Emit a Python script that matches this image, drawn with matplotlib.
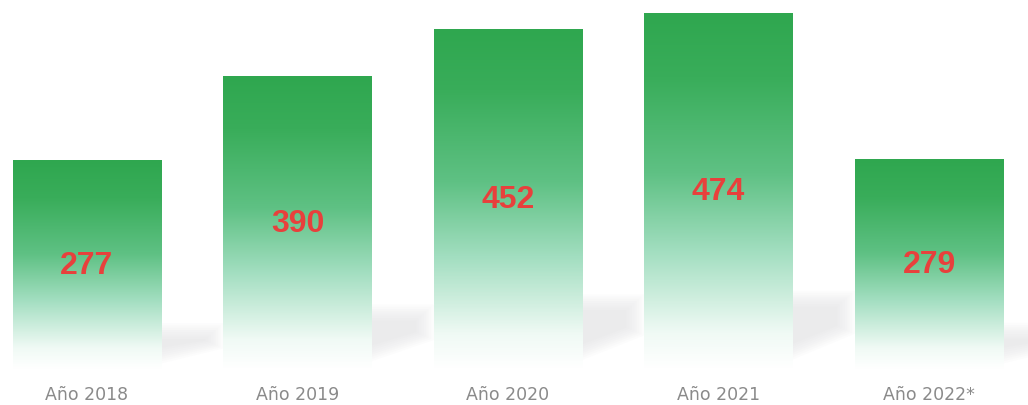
import numpy as np
import matplotlib.pyplot as plt
from matplotlib.colors import LinearSegmentedColormap
from matplotlib.patches import Polygon

# data
years = ['Año 2018', 'Año 2019', 'Año 2020', 'Año 2021', 'Año 2022*']
values = [277, 390, 452, 474, 279]

fig = plt.figure(figsize=(10.28, 4.06), dpi=100)
ax = fig.add_axes([0, 36 / 406, 1, 1 - 36 / 406])

x = np.arange(len(values))
w = 0.705
gap = 1 - w

green = LinearSegmentedColormap.from_list('g', [
    (0.0, '#ffffff'),
    (0.1, '#f0faf5'),
    (0.33, '#a2dec0'),
    (0.55, '#5fc184'),
    (0.82, '#39ad5a'),
    (1.0, '#2fa74f'),
])
grad = np.linspace(0, 1, 256).reshape(-1, 1)

for xi, v in zip(x, values):
    # soft shadow to the right of the bar (layered to look blurred)
    xr = xi + w / 2
    top = 0.22 * v
    for k in range(8):
        d = k * 3
        shadow = Polygon([(xr, top - d), (xr + gap - d / 250, top - d),
                          (xr + gap - d / 250, top * 0.45 + d * 0.5), (xr, top * 0.12 + d)],
                         closed=True, facecolor='#d6d6da', edgecolor='none', alpha=0.065, zorder=1)
        ax.add_patch(shadow)
    ax.imshow(grad, cmap=green, origin='lower', aspect='auto',
              extent=(xi - w / 2, xi + w / 2, 0, v), zorder=2)
    ax.text(xi, v / 2, str(v), ha='center', va='center', fontsize=23,
            fontweight='bold', color='#e8403c', zorder=3,
            family=['Liberation Sans', 'DejaVu Sans'])
    ax.text(xi, -33, years[xi], ha='center', va='center', fontsize=12.5,
            color='#8a8a8a', clip_on=False)

ax.set_xlim(-87 / 210.5, (1028 - 87) / 210.5)
ax.set_ylim(0, 370 / 0.751)
ax.axis('off')

plt.savefig('out.png', dpi=100)
